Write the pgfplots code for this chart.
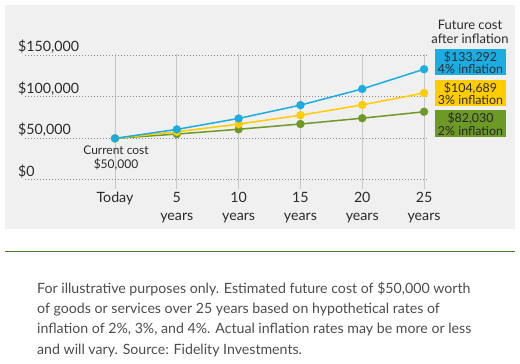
\documentclass[border=0pt]{standalone}
\usepackage{pgfplots}
\pgfplotsset{compat=1.18}
\usepackage{fontspec}
\setmainfont{Lato}
\definecolor{bg}{HTML}{F0F0F0}
\definecolor{cblue}{HTML}{1BADE2}
\definecolor{cyellow}{HTML}{FFCC00}
\definecolor{cgreen}{HTML}{6D9A25}
\definecolor{rulegreen}{HTML}{44802C}
\definecolor{txt}{HTML}{2B2B2B}
\definecolor{cap}{HTML}{4D4D4D}
\begin{document}
\begin{tikzpicture}[x=1bp,y=1bp]
\path[use as bounding box,fill=white] (0,0) rectangle (520,363);
\fill[bg] (5,134) rectangle (515,358);
\draw[rulegreen,line width=1.2bp] (5,111.5) -- (515,111.5);
\begin{axis}[
  at={(25bp,174bp)}, anchor=south west,
  scale only axis, width=403bp, height=135.3bp,
  xmin=-7.28, xmax=25.32, ymin=-11000, ymax=152000,
  axis line style={draw=none}, tick style={draw=none},
  scaled y ticks=false,
  xtick={0,5,10,15,20,25},
  xticklabels={Today,5\\years,10\\years,15\\years,20\\years,25\\years},
  ytick={0,50000,100000,150000},
  yticklabels={{\$0},{\$50,000},{\$100,000},{\$150,000}},
  xmajorgrids, ymajorgrids,
  x grid style={draw=black!22, line width=0.9bp},
  y grid style={draw=black!45, line width=1bp, dotted},
  xticklabel style={font=\fontsize{14.2bp}{18bp}\selectfont, text=txt, align=center, anchor=north, inner sep=0pt, yshift=-3bp},
  yticklabel style={font=\fontsize{14.2bp}{17bp}\selectfont, text=txt, anchor=base west, inner sep=0pt, xshift=-7bp, yshift=3.5bp},
  clip=false,
]
\addplot[cgreen, line width=1.5bp, mark=*, mark size=3.4bp, mark options={solid}] coordinates {(0,50000) (5,55204) (10,60950) (15,67293) (20,74297) (25,82030)};
\addplot[cyellow, line width=1.5bp, mark=*, mark size=3.4bp] coordinates {(0,50000) (5,57964) (10,67196) (15,77898) (20,90306) (25,104689)};
\addplot[cblue, line width=1.5bp, mark=*, mark size=3.4bp] coordinates {(0,50000) (5,60833) (10,74012) (15,90047) (20,109556) (25,133292)};
\end{axis}
\node[anchor=base, align=center, text=txt, inner sep=0pt, font=\fontsize{12bp}{14bp}\selectfont] at (116,195) {Current cost\\\$50,000};
\node[anchor=base, align=center, text=txt, inner sep=0pt, font=\fontsize{13bp}{14bp}\selectfont] at (470,320) {Future cost\\after inflation};
\fill[cblue] (435,288) rectangle (506,314);
\fill[cyellow] (435,257) rectangle (506,283);
\fill[cgreen] (435,226) rectangle (506,253);
\node[align=center, text=txt, inner sep=0pt, font=\fontsize{12.4bp}{12.8bp}\selectfont] at (470.5,300.5) {\$133,292\\4\% inflation};
\node[align=center, text=txt, inner sep=0pt, font=\fontsize{12.4bp}{12.8bp}\selectfont] at (470.5,269.5) {\$104,689\\3\% inflation};
\node[align=center, text=black!85, inner sep=0pt, font=\fontsize{12.4bp}{12.8bp}\selectfont] at (470.5,239) {\$82,030\\2\% inflation};
\node[anchor=base west, align=left, text=cap, inner sep=0pt, font=\fontsize{14.15bp}{20.3bp}\selectfont] at (37,9) {For illustrative purposes only. Estimated future cost of \$50,000 worth\\of goods or services over 25 years based on hypothetical rates of\\inflation of 2\%, 3\%, and 4\%. Actual inflation rates may be more or less\\and will vary. Source: Fidelity Investments.};
\end{tikzpicture}
\end{document}
